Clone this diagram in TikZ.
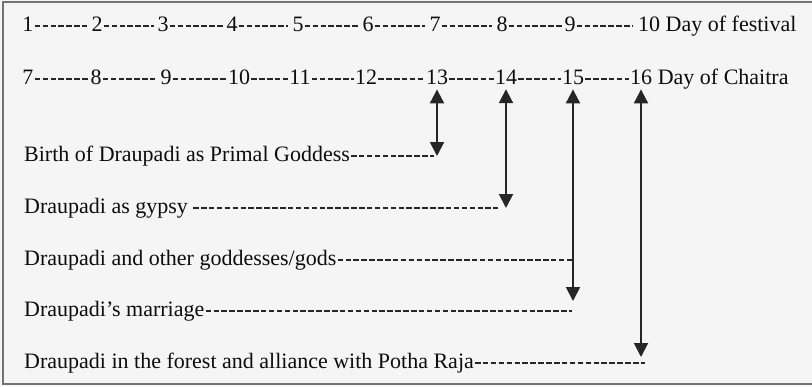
\documentclass[tikz,border=0pt]{standalone}
\usepackage{fontspec}
\setmainfont{Liberation Serif}
\usetikzlibrary{arrows.meta}
\begin{document}
\begin{tikzpicture}[x=1pt,y=-1pt,
  txt/.style={inner sep=0pt, anchor=base, font=\fontsize{22}{26}\selectfont, text=black!95},
  lbl/.style={txt, anchor=base west},
  hy/.style={draw=black!85, line width=1.7pt, dash pattern=on 5.5pt off 2.4pt},
  vline/.style={draw=black!85, line width=2pt},
  both/.style={vline, {Triangle[length=14pt,width=14pt]}-{Triangle[length=14pt,width=14pt]}},
]
% paper and frame
\fill[black!4] (0,0) rectangle (812,386);
\useasboundingbox (0,0) rectangle (812,386);
\draw[black!55, line width=2pt] (812,2) -- (3,2) -- (3,384) -- (812,384);

% days of the festival
\node[txt] (a1) at (28,31.5) {1};
\node[txt] (a2) at (97,31.5) {2};
\node[txt] (a3) at (163,31.5) {3};
\node[txt] (a4) at (232,31.5) {4};
\node[txt] (a5) at (298,31.5) {5};
\node[txt] (a6) at (368,31.5) {6};
\node[txt] (a7) at (435,31.5) {7};
\node[txt] (a8) at (502,31.5) {8};
\node[txt] (a9) at (570,31.5) {9};
\node[lbl] (a10) at (638,31.5) {10 Day of festival};
\foreach \p/\q/\g in {a1/a2/4,a2/a3/3,a3/a4/3,a4/a5/4,a5/a6/4,a6/a7/4,a7/a8/4,a8/a9/1,a9/a10/5}
  \draw[hy] ([shift={(1pt,5.5pt)}]\p.base east) -- ([shift={(-\g pt,5.5pt)}]\q.base west);

% days of Chaitra
\node[txt] (b7) at (28,84.5) {7};
\node[txt] (b8) at (96,84.5) {8};
\node[txt] (b9) at (166,84.5) {9};
\node[txt] (b10) at (239,84.5) {10};
\node[txt] (b11) at (300,84.5) {11};
\node[txt] (b12) at (366,84.5) {12};
\node[txt] (b13) at (437,84.5) {13};
\node[txt] (b14) at (506,84.5) {14};
\node[txt] (b15) at (573,84.5) {15};
\node[txt] (b16) at (641,84.5) {16};
\node[lbl] (chaitra) at ([xshift=5.4pt]b16.base east) {Day of Chaitra};
\foreach \p/\q/\g in {b7/b8/1,b8/b9/5,b9/b10/1,b10/b11/1,b11/b12/1,b12/b13/1,b13/b14/1,b14/b15/1,b15/b16/1}
  \draw[hy] ([shift={(1pt,5.5pt)}]\p.base east) -- ([shift={(-\g pt,5.5pt)}]\q.base west);

% arrow ends and dash ends
\coordinate (e13) at (437,156);
\coordinate (e14) at (506,208);
\coordinate (e15) at (573,301);
\coordinate (e16) at (641,357);
\coordinate (m15) at (573,260);
\coordinate (f15) at (572,311);
\coordinate (f16) at (645,363);

% episodes
\node[lbl] (l1) at (24,161.5) {Birth of Draupadi as Primal Goddess};
\node[lbl] (l2) at (24,213.5) {Draupadi as gypsy};
\node[lbl] (l3) at (24,265.5) {Draupadi and other goddesses/gods};
\node[lbl] (l4) at (24,316.5) {Draupadi’s marriage};
\node[lbl] (l5) at (24,368.5) {Draupadi in the forest and alliance with Potha Raja};

\draw[hy] ([shift={(1pt,5.5pt)}]l1.base east) -- ([xshift=-3pt]e13);
\draw[hy] ([shift={(5pt,5.5pt)}]l2.base east) -- ([xshift=-8pt]e14);
\draw[hy] ([shift={(1pt,5.5pt)}]l3.base east) -- (m15);
\draw[hy] ([shift={(1pt,5.5pt)}]l4.base east) -- (f15);
\draw[hy] ([shift={(1pt,5.5pt)}]l5.base east) -- (f16);

% day arrows
\draw[both] ([yshift=-4.5pt]b13.south) -- (e13);
\draw[both] ([yshift=-4.5pt]b14.south) -- (e14);
\draw[both] ([yshift=-4.5pt]b15.south) -- (e15);
\draw[both] ([yshift=-4.5pt]b16.south) -- (e16);
\end{tikzpicture}
\end{document}
